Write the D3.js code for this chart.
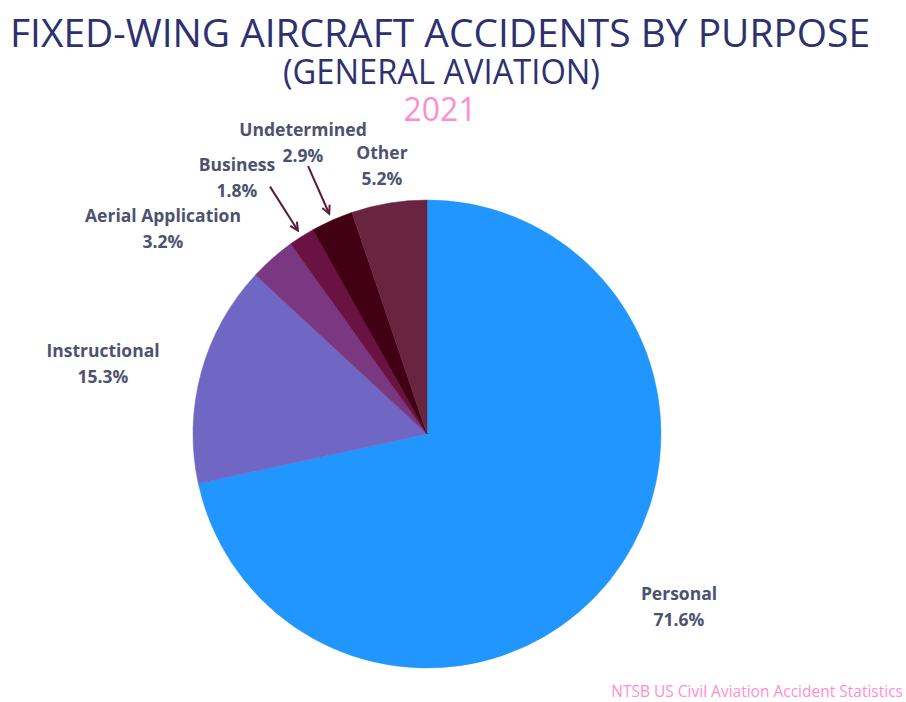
<!DOCTYPE html>
<html>
<head>
<meta charset="utf-8">
<script src="https://cdn.jsdelivr.net/npm/d3@7"></script>
<style>
  body { margin: 0; background: #fff; }
  svg { display: block; font-family: "Open Sans", sans-serif; }
</style>
</head>
<body>
<div id="chart"></div>
<script>
(function () {

var width = 906,
    height = 702

// data
var categories = ['Personal', 'Instructional', 'Aerial Application', 'Business', 'Undetermined', 'Other']
var shares = [71.6, 15.3, 3.2, 1.8, 2.9, 5.2]
var sliceColors = ['#2196ff', '#7066c4', '#7a3882', '#6a1242', '#420014', '#69243f']

// label layout: offset of label centre from the pie centre
var labelOffsets = [[252, 179], [-324, -64], [-264, -199], [-190, -250], [-124, -285], [-45, -262]]
var arrowed = ['Business', 'Undetermined']

var cx = 427, cy = 434, radius = 234

var svg = d3.select('#chart').append('svg')
    .attr('width', width)
    .attr('height', height)

svg.append('defs').append('marker')
    .attr('id', 'arrow')
    .attr('markerUnits', 'userSpaceOnUse')
    .attr('markerWidth', 12)
    .attr('markerHeight', 12)
    .attr('viewBox', '0 0 12 12')
    .attr('refX', 10)
    .attr('refY', 6)
    .attr('orient', 'auto')
  .append('path')
    .attr('d', 'M2,2 L10,6 L2,10')
    .style('fill', 'none')
    .style('stroke', '#5c1a38')
    .style('stroke-width', 2)

// titles
svg.append('text')
    .text('FIXED-WING AIRCRAFT ACCIDENTS BY PURPOSE')
    .attr('x', 10)
    .attr('y', 47)
    .attr('textLength', 860)
    .attr('lengthAdjust', 'spacingAndGlyphs')
    .attr('font-size', 39)
    .attr('fill', '#2d3170')

svg.append('text')
    .text('(GENERAL AVIATION)')
    .attr('x', 283)
    .attr('y', 84)
    .attr('textLength', 317)
    .attr('lengthAdjust', 'spacingAndGlyphs')
    .attr('font-size', 34)
    .attr('fill', '#2d3170')

svg.append('text')
    .text('2021')
    .attr('x', 440)
    .attr('y', 121)
    .attr('text-anchor', 'middle')
    .attr('font-size', 32)
    .attr('fill', '#ff8ed0')

svg.append('text')
    .text('NTSB US Civil Aviation Accident Statistics')
    .attr('x', 903)
    .attr('y', 697)
    .attr('text-anchor', 'end')
    .attr('font-size', 15.5)
    .attr('fill', '#ff8ed0')

var rows = categories.map(function (c, i) {
  return { name: c, value: shares[i], color: sliceColors[i], offset: labelOffsets[i] }
})

var pie = d3.pie()
    .sort(null)
    .value(function (d) { return d.value })

var arc = d3.arc()
    .innerRadius(0)
    .outerRadius(radius)

var g = svg.append('g')
    .attr('transform', 'translate(' + cx + ',' + cy + ')')

var arcs = pie(rows)

g.selectAll('path.slice')
    .data(arcs)
    .enter().append('path')
    .attr('class', 'slice')
    .attr('d', arc)
    .attr('fill', function (d) { return d.data.color })
    .attr('stroke', function (d) { return d.data.color })
    .attr('stroke-width', 0.5)

// arrows for the thin slices
function polar(a, r) { return [r * Math.sin(a), -r * Math.cos(a)] }

g.selectAll('line.pointer')
    .data(arcs.filter(function (d) { return arrowed.indexOf(d.data.name) >= 0 }))
    .enter().append('line')
    .attr('class', 'pointer')
    .attr('x1', function (d) { return polar((d.startAngle + d.endAngle) / 2, 293)[0] })
    .attr('y1', function (d) { return polar((d.startAngle + d.endAngle) / 2, 293)[1] })
    .attr('x2', function (d) { return polar((d.startAngle + d.endAngle) / 2, 241)[0] })
    .attr('y2', function (d) { return polar((d.startAngle + d.endAngle) / 2, 241)[1] })
    .style('stroke', '#5c1a38')
    .style('stroke-width', 2)
    .attr('marker-end', 'url(#arrow)')

var labels = g.selectAll('text.label')
    .data(arcs)
    .enter().append('text')
    .attr('class', 'label')
    .attr('text-anchor', 'middle')
    .attr('font-size', 17.5)
    .attr('font-weight', 700)
    .attr('fill', '#4d5270')

labels.append('tspan')
    .attr('x', function (d) { return d.data.offset[0] })
    .attr('y', function (d) { return d.data.offset[1] - 13 })
    .text(function (d) { return d.data.name })

labels.append('tspan')
    .attr('x', function (d) { return d.data.offset[0] })
    .attr('y', function (d) { return d.data.offset[1] + 13 })
    .text(function (d) { return d3.format('.1f')(d.data.value) + '%' })

})()
</script>
</body>
</html>
